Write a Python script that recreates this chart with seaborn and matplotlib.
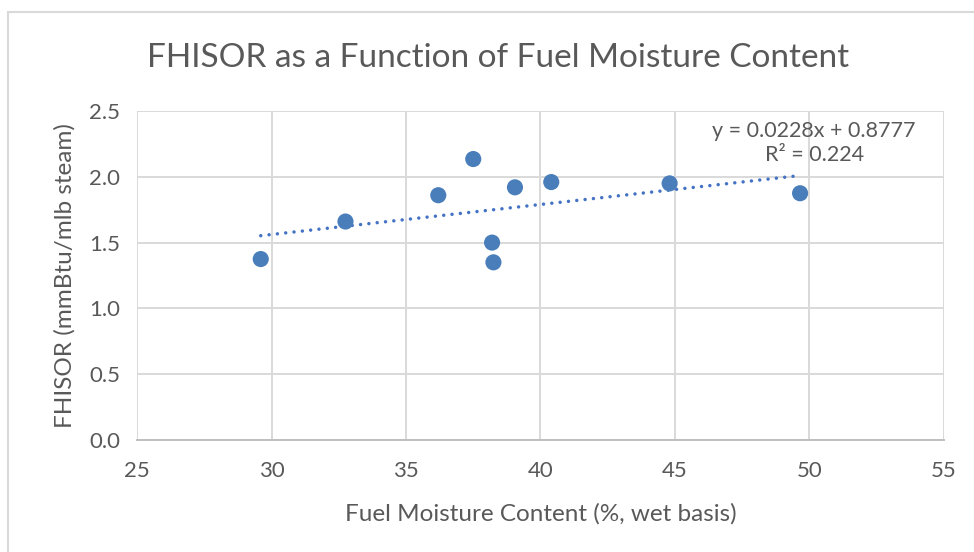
import numpy as np
import pandas as pd
import seaborn as sns
import matplotlib.pyplot as plt
import matplotlib.patches as mpatches

# values
moisture = [29.6, 32.75, 36.2, 37.5, 38.2, 38.25, 39.05, 40.4, 44.8, 49.65]
fhisor = [1.375, 1.66, 1.86, 2.135, 1.50, 1.35, 1.92, 1.96, 1.95, 1.875]
slope, intercept = 0.0228, 0.8777
r_squared = 0.224

df = pd.DataFrame({'moisture': moisture, 'fhisor': fhisor})

sns.set_style("white")
plt.rcParams['font.family'] = ['Lato', 'DejaVu Sans']

fig = plt.figure(figsize=(9.74, 5.52), dpi=100)
ax = fig.add_axes([137 / 974, 1 - 440 / 552, (944 - 137) / 974, (440 - 111) / 552])

grid_c = '#d9d9d9'
text_c = '#595959'

ax.set_xlim(25, 55)
ax.set_ylim(0, 2.5)
ax.set_xticks(np.arange(25, 56, 5))
ax.set_yticks(np.arange(0, 2.51, 0.5))
ax.set_yticklabels([f"{v:.1f}" for v in np.arange(0, 2.51, 0.5)])
ax.grid(True, color=grid_c, linewidth=1.4)
ax.set_axisbelow(True)
for side in ['top', 'right', 'left']:
    ax.spines[side].set_visible(False)
ax.spines['bottom'].set_color('#bfbfbf')
ax.spines['bottom'].set_linewidth(1.4)
ax.tick_params(axis='both', length=0, labelsize=16, colors=text_c)
ax.tick_params(axis='x', pad=15)
ax.tick_params(axis='y', pad=12)

# trendline (Excel linear fit over the data range)
tx = np.array([min(moisture), max(moisture)])
ax.plot(tx, slope * tx + intercept, linestyle=(0, (0.01, 2.4)), color='#4472C4',
        linewidth=2.5, dash_capstyle='round', zorder=2)

sns.scatterplot(data=df, x='moisture', y='fhisor', ax=ax, s=135, color='#4A7EBB',
                edgecolor='none', zorder=3)

ax.set_xlabel("Fuel Moisture Content (%, wet basis)", fontsize=17.5, color=text_c, labelpad=16)
ax.set_ylabel("FHISOR (mmBtu/mlb steam)", fontsize=17.5, color=text_c, labelpad=10)

ax.text(0.839, 0.903, f"y = {slope}x + {intercept}\nR² = {r_squared}", transform=ax.transAxes,
        ha='center', va='center', fontsize=15.5, color=text_c, linespacing=1.3)

fig.text(498.5 / 974, 1 - 67 / 552, "FHISOR as a Function of Fuel Moisture Content",
         ha='center', va='baseline', fontsize=24, color=text_c)

# chart area border
fig.patches.append(mpatches.Rectangle((8 / 974, -0.1), 1.1, 1 - 12 / 552 + 0.1,
                                      transform=fig.transFigure, fill=False,
                                      edgecolor='#d9d9d9', linewidth=1.5))

fig.savefig("out.png", dpi=100)
